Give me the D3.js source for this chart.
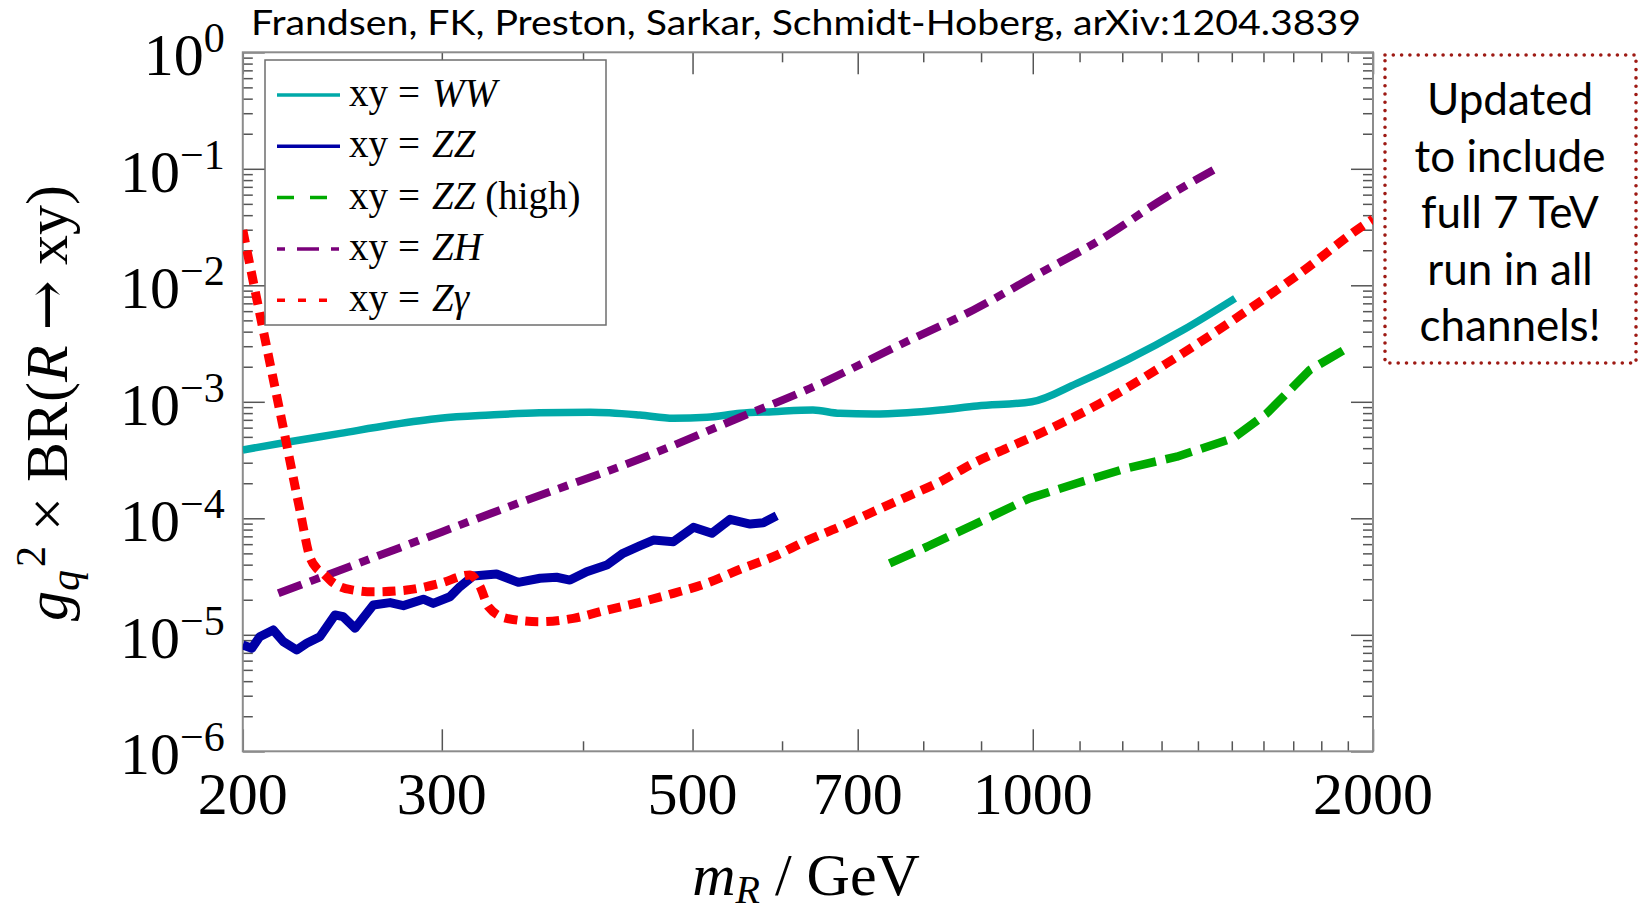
<!DOCTYPE html>
<html>
<head>
<meta charset="utf-8">
<script src="https://cdn.jsdelivr.net/npm/d3@7"></script>
<style>
  body { margin: 0; background: #fff; }
</style>
</head>
<body>
<script>
// Limits on g_q^2 x BR(R -> xy) vs resonance mass, [mass GeV, limit]
const ww = [[200, 3.86e-4], [220, 4.54e-4], [244, 5.36e-4], [270, 6.32e-4], [299, 7.22e-4],
    [331, 7.70e-4], [366, 8.06e-4], [406, 8.13e-4], [449, 7.70e-4], [481, 7.22e-4],
    [515, 7.36e-4], [551, 7.96e-4], [589, 8.22e-4], [639, 8.50e-4], [675, 7.96e-4],
    [722, 7.86e-4], [774, 8.06e-4], [828, 8.50e-4], [893, 9.20e-4], [998, 1.0e-3],
    [1094, 1.44e-3], [1212, 2.29e-3], [1358, 4.13e-3], [1510, 7.73e-3]];

const zz = [[200, 8.17e-6], [203.7, 7.66e-6], [207, 9.63e-6], [212.8, 1.10e-5], [217.2, 8.73e-6],
    [223.2, 7.40e-6], [227.8, 8.45e-6], [234, 9.63e-6], [241.3, 1.48e-5], [245.4, 1.43e-5],
    [251.4, 1.14e-5], [260.9, 1.80e-5], [270, 1.89e-5], [277.4, 1.78e-5], [288.9, 2.02e-5],
    [294.8, 1.86e-5], [305, 2.12e-5], [311.3, 2.59e-5], [319.8, 3.20e-5], [335.4, 3.33e-5],
    [350.6, 2.82e-5], [366.5, 3.06e-5], [379, 3.12e-5], [389.5, 2.95e-5], [403, 3.48e-5],
    [419.8, 3.97e-5], [434, 5.01e-5], [449, 5.8e-5], [461.6, 6.51e-5], [480.9, 6.30e-5],
    [500.9, 8.37e-5], [520, 7.43e-5], [539.7, 9.80e-5], [562.2, 8.93e-5], [577.5, 9.17e-5],
    [593.5, 1.05e-4]];

const zzHigh = [[747, 4.11e-5], [806, 5.70e-5], [892, 9.06e-5], [994, 1.49e-4], [1094, 2.00e-4],
    [1211, 2.69e-4], [1341, 3.38e-4], [1505, 4.89e-4], [1611, 7.96e-4], [1759, 1.88e-3],
    [1896, 2.88e-3]];

const zh = [[215, 2.27e-5], [275.5, 5.60e-5], [351.8, 1.366e-4], [449, 3.23e-4], [551, 7.36e-4],
    [635.3, 1.305e-3], [768, 3.18e-3], [885.9, 6.14e-3], [1015, 1.275e-2], [1147, 2.45e-2],
    [1314, 5.76e-2], [1445, 9.77e-2]];

const zgamma = [[200, 2.98e-2], [205, 9.15e-3], [211.4, 2.14e-3], [218, 5.01e-4], [224.7, 1.17e-4],
    [229.3, 4.66e-5], [232.5, 3.72e-5], [235.6, 3.37e-5], [239.7, 2.86e-5], [243.8, 2.59e-5],
    [250.5, 2.42e-5], [260.9, 2.34e-5], [279.3, 2.42e-5], [299, 2.77e-5], [317.7, 3.26e-5],
    [324.3, 2.59e-5], [329.9, 1.74e-5], [342.4, 1.385e-5], [366.5, 1.295e-5], [392.2, 1.385e-5],
    [419.8, 1.63e-5], [449, 1.9e-5], [480.9, 2.27e-5], [514.7, 2.77e-5], [551, 3.65e-5],
    [589.4, 4.68e-5], [630.9, 6.42e-5], [675.4, 8.47e-5], [722.7, 1.14e-4], [773.5, 1.53e-4],
    [828, 2.06e-4], [885.9, 2.97e-4], [948, 3.99e-4], [1015, 5.36e-4], [1147, 9.7e-4],
    [1314, 2.14e-3], [1505, 5.04e-3], [1724, 1.27e-2], [1974, 3.41e-2], [2000, 3.7e-2]];

// axis ticks and labels
const xMajor = [200, 300, 500, 700, 1000, 2000];
const xMinor = [400, 600, 800, 900, 1100, 1200, 1300, 1400, 1500, 1600, 1700, 1800, 1900];
const xTickLabels = ["200", "300", "500", "700", "1000", "2000"];
const yExponents = [0, -1, -2, -3, -4, -5, -6];
const yTickExponentLabels = ["0", "\u22121", "\u22122", "\u22123", "\u22124", "\u22125", "\u22126"];

const legendItalic = ["WW", "ZZ", "ZZ", "ZH", "Z\u03b3"];
const legendSuffix = ["", "", " (high)", "", ""];
const title = "Frandsen, FK, Preston, Sarkar, Schmidt-Hoberg, arXiv:1204.3839";
const noteLines = ["Updated", "to include", "full 7 TeV", "run in all", "channels!"];

const series = [
    {data: ww, color: "#00a9a8", width: 7.5, dash: null, legendDash: null, curve: d3.curveMonotoneX},
    {data: zz, color: "#0000a6", width: 9, dash: null, legendDash: null, curve: d3.curveLinear},
    {data: zzHigh, color: "#00aa00", width: 8.5, dash: "27,10", legendDash: "17,16", curve: d3.curveLinear},
    {data: zh, color: "#7a007a", width: 8, dash: "25,9,10,9", legendDash: "8,12,22,12", curve: d3.curveMonotoneX},
    {data: zgamma, color: "#ff0000", width: 9, dash: "13,8", legendDash: "8,13", curve: d3.curveMonotoneX}
];

const width = 1641, height = 911;
const plotL = 242.8, plotR = 1373, plotT = 52.3, plotB = 751.3;
const serif = "'Liberation Serif', 'Times New Roman', serif";
const sans = "Lato, 'Open Sans', sans-serif";

const x = d3.scaleLog().domain([200, 2000]).range([plotL, plotR]);
const y = d3.scaleLog().domain([1e-6, 1]).range([plotB, plotT]);

const yMajor = yExponents.map(e => Math.pow(10, e));
const yMinor = [];
for (let e = -6; e < 0; e++) for (let k = 2; k <= 9; k++) yMinor.push(k * Math.pow(10, e));

const svg = d3.select("body").append("svg")
    .attr("width", width)
    .attr("height", height);

// title
svg.append("text")
    .attr("x", 251).attr("y", 35)
    .attr("font-family", sans).attr("font-size", 35)
    .attr("textLength", 1110).attr("lengthAdjust", "spacingAndGlyphs")
    .text(title);

// clip for curves
svg.append("clipPath").attr("id", "plot-clip")
    .append("rect").attr("x", plotL).attr("y", plotT)
    .attr("width", plotR - plotL).attr("height", plotB - plotT);

// ticks on all four sides, pointing in
function tickAxis(axis, tx, ty, values, size) {
    svg.append("g")
        .attr("transform", `translate(${tx},${ty})`)
        .call(axis.tickValues(values).tickSize(-size).tickFormat(""))
        .call(g => g.select(".domain").remove())
        .call(g => g.selectAll(".tick line").attr("stroke", "#555").attr("stroke-width", 1.5));
}
[[22, xMajor, yMajor], [10, xMinor, yMinor]].forEach(([size, xs, ys]) => {
    tickAxis(d3.axisBottom(x), 0, plotB, xs, size);
    tickAxis(d3.axisTop(x), 0, plotT, xs, size);
    tickAxis(d3.axisLeft(y), plotL, 0, ys, size);
    tickAxis(d3.axisRight(y), plotR, 0, ys, size);
});

svg.append("rect")
    .attr("x", plotL).attr("y", plotT)
    .attr("width", plotR - plotL).attr("height", plotB - plotT)
    .attr("fill", "none").attr("stroke", "#8c8c8c").attr("stroke-width", 2);

// x tick labels
svg.append("g").selectAll("text")
    .data(xMajor)
    .join("text")
    .attr("x", d => x(d)).attr("y", 814)
    .attr("text-anchor", "middle")
    .attr("font-family", serif).attr("font-size", 60)
    .text((d, i) => xTickLabels[i]);

// y tick labels 10^n
const yLab = svg.append("g").selectAll("text")
    .data(yMajor)
    .join("text")
    .attr("x", plotL - 18).attr("y", d => y(d) + 23)
    .attr("text-anchor", "end")
    .attr("font-family", serif).attr("font-size", 60);
yLab.append("tspan").text("10");
yLab.append("tspan").attr("font-size", 42).attr("dy", -23)
    .text((d, i) => yTickExponentLabels[i]);

// axis titles
const xt = svg.append("text")
    .attr("x", 806).attr("y", 895)
    .attr("text-anchor", "middle")
    .attr("font-family", serif).attr("font-size", 60);
xt.append("tspan").attr("font-style", "italic").text("m");
xt.append("tspan").attr("font-style", "italic").attr("font-size", 40).attr("dy", 8).text("R");
xt.append("tspan").attr("dy", -8).text(" / GeV");

const yt = svg.append("text")
    .attr("transform", "translate(67,403) rotate(-90)")
    .attr("text-anchor", "middle")
    .attr("font-family", serif).attr("font-size", 60);
yt.append("tspan").attr("font-style", "italic").text("g");
yt.append("tspan").attr("font-style", "italic").attr("font-size", 42).attr("dy", 12).text("q");
yt.append("tspan").attr("font-size", 42).attr("dx", 3).attr("dy", -34).text("2");
yt.append("tspan").attr("dy", 22).text(" \u00d7 BR(");
yt.append("tspan").attr("font-style", "italic").text("R");
yt.append("tspan").text(" ");
yt.append("tspan").attr("font-family", "'DejaVu Serif', serif").text("\u2192");
yt.append("tspan").text(" xy)");

// curves
const line = d3.line().x(d => x(d[0])).y(d => y(d[1]));
const curves = svg.append("g").attr("clip-path", "url(#plot-clip)");
series.forEach(s => {
    curves.append("path")
        .datum(s.data)
        .attr("fill", "none")
        .attr("stroke", s.color)
        .attr("stroke-width", s.width)
        .attr("stroke-dasharray", s.dash)
        .attr("stroke-linejoin", "round")
        .attr("d", line.curve(s.curve));
});

// legend
const legend = svg.append("g");
legend.append("rect")
    .attr("x", 265).attr("y", 60).attr("width", 341).attr("height", 265)
    .attr("fill", "#fff").attr("stroke", "#6e6e6e").attr("stroke-width", 1.5);

series.forEach((s, i) => {
    const ry = 95 + i * 51.3;
    legend.append("line")
        .attr("x1", 277).attr("x2", 340).attr("y1", ry).attr("y2", ry)
        .attr("stroke", s.color).attr("stroke-width", 3.5)
        .attr("stroke-dasharray", s.legendDash);
    const t = legend.append("text")
        .attr("x", 349).attr("y", ry + 11)
        .attr("font-family", serif).attr("font-size", 39);
    t.append("tspan").text("xy");
    t.append("tspan").attr("dx", 10).text("=");
    t.append("tspan").attr("dx", 12).attr("font-style", "italic").text(legendItalic[i]);
    t.append("tspan").text(legendSuffix[i]);
});

// annotation box
svg.append("rect")
    .attr("x", 1385).attr("y", 55).attr("width", 251).attr("height", 308)
    .attr("fill", "none").attr("stroke", "#9e1a14").attr("stroke-width", 3.6)
    .attr("stroke-linecap", "round").attr("stroke-dasharray", "0,8.3");

svg.append("g").selectAll("text")
    .data(noteLines)
    .join("text")
    .attr("x", 1510).attr("y", (d, i) => 115 + i * 56.5)
    .attr("text-anchor", "middle")
    .attr("font-family", sans).attr("font-size", 44)
    .text(d => d);
</script>
</body>
</html>
